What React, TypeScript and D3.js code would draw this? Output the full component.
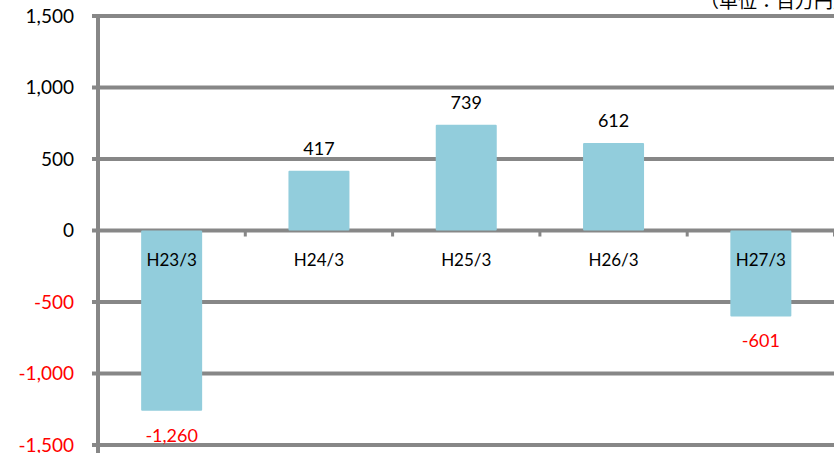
import React from "react";
import * as d3 from "d3";

const categories = ["H23/3", "H24/3", "H25/3", "H26/3", "H27/3"];
const values = [-1260, 417, 739, 612, -601];
const yTicks = [1500, 1000, 500, 0, -500, -1000, -1500];
const unitLabel = "（単位：百万円）";

const W = 834;
const H = 453;
const FONT = "Lato, 'Open Sans', 'Noto Sans', sans-serif";
const GRID = "#878787";
const BAR = "#92CDDC";

// thousands separator with a plain hyphen for negatives
const fmt = (v: number) => d3.format(",")(v).replace("−", "-");

export default function App() {
  const x = d3.scaleBand<string>().domain(categories).range([98, 834.5]).paddingInner(0).paddingOuter(0);
  const y = d3.scaleLinear().domain([-1500, 1500]).range([445, 16]);
  const barW = 61;

  return (
    <svg width={W} height={H} style={{ position: "absolute", left: 0, top: 0 }}>
      <rect width={W} height={H} fill="#fff" />
      {yTicks.map((t) => (
        <g key={t}>
          <line x1={92} x2={W} y1={y(t)} y2={y(t)} stroke={GRID} strokeWidth={4} />
          <text
            x={74}
            y={y(t)}
            dy="0.35em"
            textAnchor="end"
            fontFamily={FONT}
            fontSize={19}
            fill={t < 0 ? "#ff0000" : "#000"}
          >
            {fmt(t)}
          </text>
        </g>
      ))}
      {categories.map((c) => (
        <line key={"tk" + c} x1={x(c)! + x.bandwidth()} x2={x(c)! + x.bandwidth()} y1={y(0)} y2={y(0) + 6} stroke={GRID} strokeWidth={3} />
      ))}
      {categories.map((c, i) => {
        const v = values[i];
        const cx = x(c)! + x.bandwidth() / 2;
        const top = Math.min(y(v), y(0));
        const h = Math.abs(y(v) - y(0));
        return (
          <g key={c}>
            <rect x={cx - barW / 2} y={top} width={barW} height={h} fill={BAR} rx={1} />
            <text
              x={cx}
              y={v >= 0 ? y(v) - 16 : y(v) + 31}
              textAnchor="middle"
              fontFamily={FONT}
              fontSize={18}
              fill={v < 0 ? "#ff0000" : "#000"}
            >
              {fmt(v)}
            </text>
            <text x={cx} y={y(0) + 35} textAnchor="middle" fontFamily={FONT} fontSize={17} fill="#000">
              {c}
            </text>
          </g>
        );
      })}
      <line x1={98} x2={98} y1={14} y2={H} stroke={GRID} strokeWidth={4} />
      <text x={700} y={8} fontFamily="'Noto Sans CJK JP', sans-serif" fontSize={19} fill="#000">
        {unitLabel}
      </text>
    </svg>
  );
}
